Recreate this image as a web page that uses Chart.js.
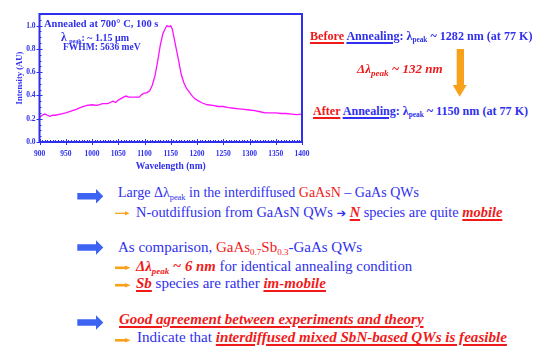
<!DOCTYPE html>
<html lang="en">
<head>
  <meta charset="UTF-8" />
  <title>GaAsN QW annealing PL</title>
  <script src="https://cdn.jsdelivr.net/npm/chart.js"></script>
  <style>
    body { margin: 0; width: 533px; height: 349px; background: #fff; position: relative; overflow: hidden; font-family: "Liberation Serif", serif; }
    .t { position: absolute; white-space: nowrap; line-height: 1; color: #3030ee; }
    .b { font-weight: bold; }
    .r { color: #f01a1a; }
    .hl { color: #f01a1a; font-weight: bold; font-style: italic; text-decoration: underline; text-decoration-thickness: 1.5px; text-underline-offset: 2px; }
    .bi { color: #f01a1a; font-weight: bold; font-style: italic; }
    .u { text-decoration: underline; text-decoration-thickness: 1.5px; text-underline-offset: 2px; }
    .sub { font-size: 0.6em; position: relative; top: 0.3em; }
    .arr { font-family: "DejaVu Sans", sans-serif; font-weight: bold; font-size: 0.8em; }
    #plot { position: absolute; left: 0; top: 0; }
    svg { position: absolute; left: 0; top: 0; }
  </style>
</head>
<body>
  <!-- PL spectrum -->
  <canvas id="plot" width="310" height="175"></canvas>

  <!-- annotation inside the plot -->
  <div class="t b" style="left:44px; top:19.2px; font-size:10.5px;">Annealed at 700° C, 100 s</div>
  <div class="t b" style="left:61px; top:32px; font-size:10px;"><span style="font-size:11.5px">λ</span> <span class="sub" style="font-size:6px">peak</span>: ~ 1.15 μm</div>
  <div class="t b" style="left:63px; top:43.3px; font-size:9.5px;">FWHM: 5636 meV</div>

  <!-- before / after annealing -->
  <div class="t b" style="left:310px; top:29.9px; font-size:12.1px;"><span class="r u">Before</span> <span class="u">Annealing</span>: λ<span class="sub">peak</span> ~ 1282 nm (at 77 K)</div>
  <div class="t bi" style="left:357px; top:61.8px; font-size:13px;">Δλ<span class="sub" style="font-size:0.7em">peak</span> ~ 132 nm</div>
  <div class="t b" style="left:313px; top:104.9px; font-size:12.1px;"><span class="r u">After</span> <span class="u">Annealing</span>: λ<span class="sub">peak</span> ~ 1150 nm (at 77 K)</div>

  <!-- conclusions -->
  <div class="t" style="left:118px; top:186.3px; font-size:14px;">Large Δλ<span class="sub">peak</span> in the interdiffused <span class="r">GaAsN</span> – GaAs QWs</div>
  <div class="t" style="left:136px; top:204.6px; font-size:14.4px;">N-outdiffusion from GaAsN QWs <span class="arr">➔</span> <span class="hl">N</span> species are quite <span class="hl">mobile</span></div>
  <div class="t" style="left:118px; top:240.4px; font-size:15px;">As comparison, <span class="r">GaAs<span class="sub">0.7</span>Sb<span class="sub">0.3</span></span>-GaAs QWs</div>
  <div class="t" style="left:136px; top:259.3px; font-size:14.8px;"><span class="bi">Δλ<span class="sub">peak</span> ~ 6 nm</span> for identical annealing condition</div>
  <div class="t" style="left:136px; top:276.4px; font-size:15px;"><span class="hl">Sb</span> species are rather <span class="hl">im-mobile</span></div>
  <div class="t" style="left:119px; top:312.4px; font-size:15px;"><span class="hl">Good agreement between experiments and theory</span></div>
  <div class="t" style="left:137px; top:330.4px; font-size:15.1px;">Indicate that <span class="hl">interdiffused mixed SbN-based QWs is feasible</span></div>

  <!-- arrows -->
  <svg width="533" height="349">
    <polygon points="452.7,85 466.7,85 459.7,96.7" fill="#f9a11b" />
    <rect x="456.7" y="49" width="7.3" height="36" fill="#f9a11b" />
    <g fill="#3d63f2">
      <polygon points="77.3,193 96,193 96,189 103.3,196.3 96,203.6 96,199.6 77.3,199.6" />
      <polygon points="77.3,244.2 96,244.2 96,240.2 103.3,247.5 96,254.8 96,250.8 77.3,250.8" />
      <polygon points="77.3,319.2 96,319.2 96,315.2 103.3,322.5 96,329.8 96,325.8 77.3,325.8" />
    </g>
    <g stroke="#f9a11b" fill="#f9a11b">
      <line x1="115" y1="213.3" x2="126" y2="213.3" stroke-width="1.3" />
      <polygon points="125,211.2 129.5,213.3 125,215.4" stroke="none" />
      <line x1="115" y1="267.8" x2="125.5" y2="267.8" stroke-width="2.6" />
      <polygon points="125,265.5 130.7,267.8 125,270.1" stroke="none" />
      <line x1="115" y1="285.2" x2="125.5" y2="285.2" stroke-width="2.6" />
      <polygon points="125,282.9 130.7,285.2 125,287.5" stroke="none" />
      <line x1="115" y1="340.3" x2="125.5" y2="340.3" stroke-width="2.6" />
      <polygon points="125,338 130.7,340.3 125,342.6" stroke="none" />
    </g>
  </svg>

  <script>
    // PL spectrum (annealed GaAsN QW)
    const wavelength = [900, 905, 910, 915, 920, 925, 930, 940, 950, 960, 970, 980, 990, 1000, 1010, 1020, 1030, 1040, 1045, 1050,
      1060, 1065, 1070, 1080, 1090, 1095, 1100, 1105, 1110, 1115, 1120, 1125, 1130, 1135, 1140, 1143, 1147, 1150, 1153, 1157,
      1160, 1165, 1170, 1175, 1180, 1185, 1190, 1195, 1200, 1210, 1220, 1230, 1240, 1250, 1260, 1270, 1280, 1290, 1300, 1310,
      1320, 1330, 1340, 1350, 1360, 1370, 1380, 1390, 1400];
    const intensity = [0.21, 0.23, 0.24, 0.23, 0.22, 0.23, 0.23, 0.24, 0.25, 0.265, 0.28, 0.30, 0.315, 0.32, 0.315, 0.33, 0.33, 0.35, 0.34, 0.36,
      0.385, 0.395, 0.385, 0.385, 0.385, 0.41, 0.42, 0.425, 0.44, 0.49, 0.57, 0.69, 0.83, 0.93, 0.98, 1.0, 0.99, 1.0, 0.97, 0.88,
      0.81, 0.70, 0.58, 0.51, 0.46, 0.43, 0.40, 0.375, 0.36, 0.335, 0.32, 0.315, 0.305, 0.305, 0.295, 0.29, 0.285, 0.28, 0.275, 0.27,
      0.26, 0.25, 0.25, 0.25, 0.245, 0.245, 0.24, 0.235, 0.24];
    const xTicks = [900, 950, 1000, 1050, 1100, 1150, 1200, 1250, 1300, 1350, 1400];
    const yTicks = [0.0, 0.2, 0.4, 0.6, 0.8, 1.0];

    const axisBlue = '#2f2ff0';
    const tickFont = { family: 'Liberation Serif', size: 7.5, weight: 'bold' };

    // frame plus small inward ticks like the original plot
    const frameTicks = {
      id: 'frameTicks',
      afterDatasetsDraw(chart) {
        const { ctx, chartArea: a, scales: { x, y } } = chart;
        ctx.save();
        ctx.strokeStyle = axisBlue;
        ctx.lineWidth = 1;
        ctx.beginPath();
        for (let v = x.min; v <= x.max; v += 5) {
          const px = Math.round(x.getPixelForValue(v)) + 0.5;
          const major = v % 50 === 0;
          ctx.moveTo(px, a.bottom + (major ? 3 : 0));
          ctx.lineTo(px, a.bottom - (major ? 3 : 2));
        }
        for (let i = 0; i <= 22; i++) {
          const v = i * 0.05;
          const py = Math.round(y.getPixelForValue(v)) + 0.5;
          const major = i % 4 === 0;
          ctx.moveTo(a.left - (major ? 3 : 0), py);
          ctx.lineTo(a.left + (major ? 3 : 2), py);
        }
        ctx.stroke();
        ctx.lineWidth = 2;
        ctx.strokeRect(a.left, a.top, a.right - a.left, a.bottom - a.top);
        ctx.restore();
      }
    };

    new Chart(document.getElementById('plot'), {
      type: 'line',
      data: {
        datasets: [{
          data: wavelength.map((w, i) => ({ x: w, y: intensity[i] })),
          borderColor: '#ff10ff',
          borderWidth: 1.3,
          pointRadius: 0,
          tension: 0
        }]
      },
      options: {
        responsive: false,
        devicePixelRatio: 1,
        animation: false,
        layout: { padding: { top: 14, right: 8 } },
        plugins: { legend: { display: false }, tooltip: { enabled: false } },
        scales: {
          x: {
            type: 'linear', min: 900, max: 1400,
            afterBuildTicks: s => { s.ticks = xTicks.map(v => ({ value: v })); },
            afterFit: s => { s.height = 33; s.paddingLeft = 0; s.paddingRight = 0; },
            grid: { display: false, drawTicks: false },
            border: { display: false },
            ticks: { color: axisBlue, font: tickFont, padding: 8, maxRotation: 0, autoSkip: false, callback: v => String(v) },
            title: { display: true, text: 'Wavelength (nm)', color: axisBlue, font: { family: 'Liberation Serif', size: 9.5, weight: 'bold' }, padding: { top: 0, bottom: 2.3 } }
          },
          y: {
            min: 0, max: 1.1,
            afterBuildTicks: s => { s.ticks = yTicks.map(v => ({ value: v })); },
            afterFit: s => { s.width = 39.5; s.paddingTop = 0; s.paddingBottom = 0; },
            grid: { display: false, drawTicks: false },
            border: { display: false },
            ticks: { color: axisBlue, font: tickFont, padding: 4, callback: v => v.toFixed(1) },
            title: { display: true, text: 'Intensity (AU)', color: axisBlue, font: { family: 'Liberation Serif', size: 8.6, weight: 'bold' }, padding: { top: 14.5, bottom: 0 } }
          }
        }
      },
      plugins: [frameTicks]
    });
  </script>
</body>
</html>
